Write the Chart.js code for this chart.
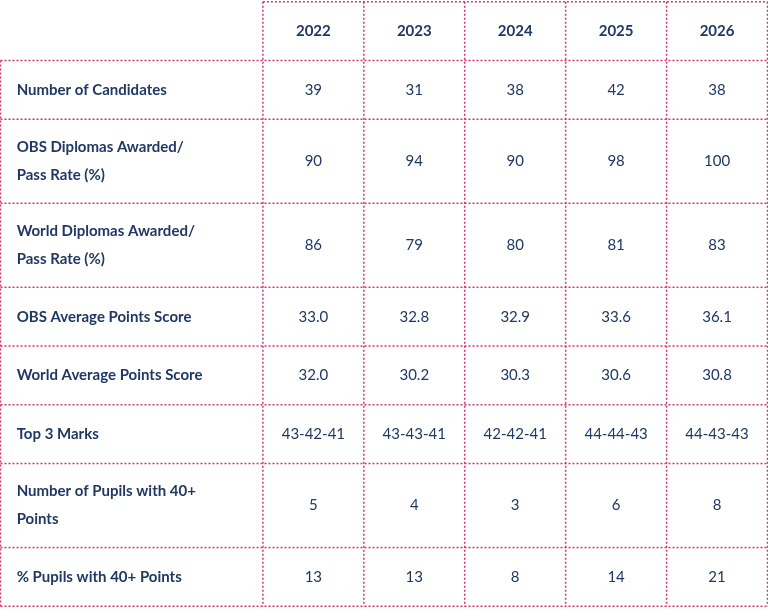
<!DOCTYPE html>
<html><head><meta charset="utf-8">
<script src="https://cdn.jsdelivr.net/npm/chart.js@4"></script>
<style>html,body{margin:0;padding:0;background:#fff}#w{width:768px;height:611px}</style>
</head><body><div id="w"><canvas id="c"></canvas></div>
<script>
const years = ['2022','2023','2024','2025','2026'];
const rowLabels = [
  ['Number of Candidates'],
  ['OBS Diplomas Awarded/','Pass Rate (%)'],
  ['World Diplomas Awarded/','Pass Rate (%)'],
  ['OBS Average Points Score'],
  ['World Average Points Score'],
  ['Top 3 Marks'],
  ['Number of Pupils with 40+','Points'],
  ['% Pupils with 40+ Points']
];
const candidates = ['39','31','38','42','38'];
const obsPass = ['90','94','90','98','100'];
const worldPass = ['86','79','80','81','83'];
const obsAvg = ['33.0','32.8','32.9','33.6','36.1'];
const worldAvg = ['32.0','30.2','30.3','30.6','30.8'];
const top3 = ['43-42-41','43-43-41','42-42-41','44-44-43','44-43-43'];
const pupils40 = ['5','4','3','6','8'];
const pct40 = ['13','13','8','14','21'];
const rows = [candidates, obsPass, worldPass, obsAvg, worldAvg, top3, pupils40, pct40];

const FIRST = 2.6;
const heights = [1].concat(rowLabels.map(l => 1 + 0.43*(l.length-1)));
const bounds = [0]; heights.forEach(h => bounds.push(bounds[bounds.length-1]+h));
const centers = heights.map((h,i)=>bounds[i]+h/2);
const xb = [0, FIRST]; years.forEach((_,i)=>xb.push(FIRST+i+1));

const datasets = [{label:'header', data: years.map((y,i)=>({x:FIRST+i+0.5, y:centers[0], t:y})), bold:true}];
rows.forEach((r,ri)=>datasets.push({label:'r'+ri, data:r.map((v,i)=>({x:FIRST+i+0.5,y:centers[ri+1],t:v}))}));
datasets.forEach(d=>{d.pointRadius=0;d.showLine=false;});

const NAVY='#1f3864', PINK='#d6336c';
const plug = {id:'tbl', afterDatasetsDraw(ch){
  const c=ch.ctx, X=ch.scales.x, Y=ch.scales.y;
  c.save();
  c.strokeStyle=PINK; c.lineWidth=1.5; c.setLineDash([2,2]);
  xb.forEach((v,i)=>{c.beginPath();c.moveTo(X.getPixelForValue(v),Y.getPixelForValue(i===0?bounds[1]:0));c.lineTo(X.getPixelForValue(v),Y.getPixelForValue(bounds[bounds.length-1]));c.stroke();});
  bounds.forEach((v,i)=>{c.beginPath();c.moveTo(X.getPixelForValue(i===0?FIRST:0),Y.getPixelForValue(v));c.lineTo(X.getPixelForValue(xb[xb.length-1]),Y.getPixelForValue(v));c.stroke();});
  c.setLineDash([]);
  c.fillStyle=NAVY; c.textBaseline='middle';
  ch.data.datasets.forEach((ds,di)=>{
    const meta=ch.getDatasetMeta(di);
    c.font=(ds.bold?'bold ':'')+'15px Lato, "Open Sans", sans-serif'; c.textAlign='center';
    meta.data.forEach((p,i)=>c.fillText(ds.data[i].t,p.x,p.y));
  });
  c.font='bold 15px Lato, "Open Sans", sans-serif'; c.textAlign='left';
  rowLabels.forEach((l,i)=>{
    const cy=Y.getPixelForValue(centers[i+1]), lh=28;
    l.forEach((s,k)=>c.fillText(s,X.getPixelForValue(0.16),cy+(k-(l.length-1)/2)*lh));
  });
  c.restore();
}};
new Chart(document.getElementById('c'),{type:'scatter',data:{datasets},plugins:[plug],
options:{responsive:true,maintainAspectRatio:false,animation:false,layout:{padding:0},
plugins:{legend:{display:false},tooltip:{enabled:false}},
scales:{x:{type:'linear',display:false,min:-0.005,max:xb[xb.length-1]+0.005},
y:{type:'linear',display:false,reverse:true,min:-0.03,max:bounds[bounds.length-1]+0.08}}}});
</script></body></html>
